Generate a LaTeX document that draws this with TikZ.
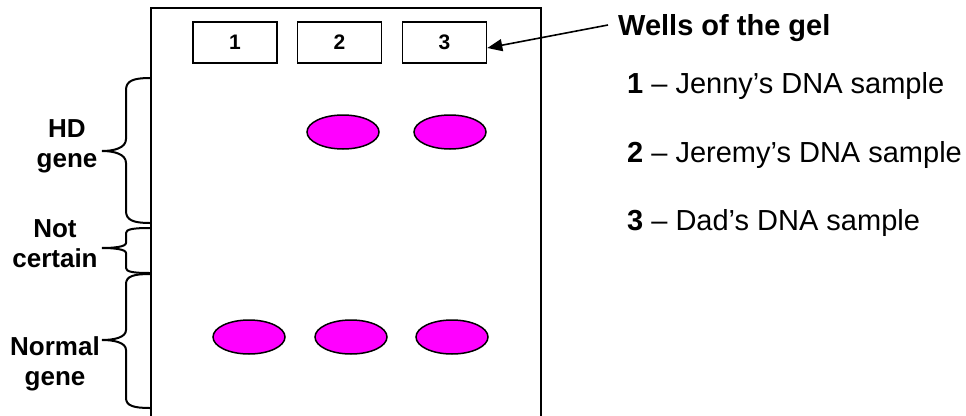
\documentclass[tikz,border=0pt]{standalone}
\usepackage{fontspec}
\setmainfont{Liberation Sans}
\usetikzlibrary{shapes,arrows.meta,positioning,calc}
\definecolor{bandpink}{HTML}{FF00FF}

% curly brace on the left of the gel: top, tip, bottom, bend
\newcommand{\genebrace}[4]{%
  \draw[brace] (150,#1) .. controls (133,#1) and (126,#1+#4/4) .. (126,#1+#4)
    -- (126,#2-#4) .. controls (126,#2-#4/4) and (114,#2) .. (102,#2)
    .. controls (114,#2) and (126,#2+#4/4) .. (126,#2+#4)
    -- (126,#3-#4) .. controls (126,#3-#4/4) and (133,#3) .. (150,#3);}

\begin{document}
\begin{tikzpicture}[x=1pt,y=-1pt,
  well/.style={draw,line width=1.6pt,minimum width=84pt,minimum height=41pt,inner sep=0pt,
    font=\fontsize{21}{24}\selectfont\bfseries},
  band/.style={ellipse,draw,line width=1.5pt,fill=bandpink,minimum width=72pt,minimum height=34pt,inner sep=0pt},
  brace/.style={line width=2pt},
  sidelabel/.style={align=center,inner sep=0pt,font=\fontsize{26}{30}\selectfont\bfseries},
  keytext/.style={anchor=base west,inner sep=0pt,font=\fontsize{29}{34}\selectfont}]
  \useasboundingbox (0,0) rectangle (966,415);

  % Gel
  \draw[line width=2.2pt] (151,420) -- (151,8) -- (541,8) -- (541,420);

  % Wells
  \node[well] (w1) at (235,42.5) {1};
  \node[well] (w2) at (339.5,42.5) {2};
  \node[well] (w3) at (444.5,42.5) {3};

  % Bands
  \node[band] (hd2) at (343,132) {};
  \node[band] (hd3) at (450,132) {};
  \node[band] (nm1) at (249,337) {};
  \node[band] (nm2) at (351,337) {};
  \node[band] (nm3) at (452,337) {};

  % Braces and their labels
  \genebrace{78}{151}{223}{12}
  \genebrace{228}{248}{273}{5}
  \genebrace{274}{340}{408}{10}
  \node[sidelabel] (hdlabel) at (67,146) {HD\\gene};
  \node[sidelabel] (unsure) at (55,244) {Not\\certain};
  \node[sidelabel] (normal) at (55,364) {Normal\\gene};

  % Key
  \node[keytext,font=\fontsize{29}{34}\selectfont\bfseries] (title) at (618,35) {Wells of the gel};
  \coordinate (arrowstart) at (608,25);
  \draw[line width=1.6pt,-{Triangle[length=15pt,width=12pt]}] (arrowstart) -- ([yshift=-5.5pt]w3.east);
  \node[keytext] (key1) at (627,93) {\textbf{1} -- Jenny’s DNA sample};
  \node[keytext] (key2) at (627,162) {\textbf{2} -- Jeremy’s DNA sample};
  \node[keytext] (key3) at (627,230) {\textbf{3} -- Dad’s DNA sample};
\end{tikzpicture}
\end{document}
